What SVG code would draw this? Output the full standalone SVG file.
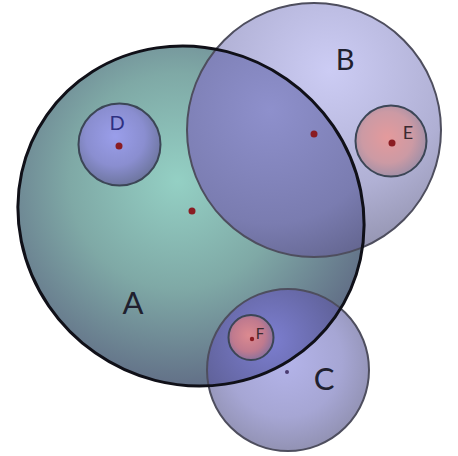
<svg xmlns="http://www.w3.org/2000/svg" width="458" height="456" viewBox="0 0 458 456">
<style>
.lbl{font-family:Lato,"DejaVu Sans",sans-serif;fill:#20202e;text-anchor:middle}
.dot{fill:#8a1c22}
.outer{fill:none;stroke:#4e4e5e;stroke-width:2}
.inner{stroke:#3c4656;stroke-width:2}
</style>
<defs>
<radialGradient id="gA" gradientUnits="userSpaceOnUse" cx="160" cy="195" r="215">
<stop offset="0" stop-color="#94d0c4"/><stop offset="0.5" stop-color="#7fa9a6"/><stop offset="1" stop-color="#5f6a84"/>
</radialGradient>
<radialGradient id="gB" gradientUnits="userSpaceOnUse" cx="330" cy="70" r="200">
<stop offset="0" stop-color="#ccccf4"/><stop offset="0.6" stop-color="#b0b0d4"/><stop offset="1" stop-color="#8e8ea8"/>
</radialGradient>
<radialGradient id="gAB" gradientUnits="userSpaceOnUse" cx="270" cy="110" r="190">
<stop offset="0" stop-color="#8e90cc"/><stop offset="0.6" stop-color="#7a7cb0"/><stop offset="1" stop-color="#5a5c82"/>
</radialGradient>
<radialGradient id="gC" gradientUnits="userSpaceOnUse" cx="285" cy="360" r="95">
<stop offset="0" stop-color="#b4b4ea"/><stop offset="0.6" stop-color="#a6a6d4"/><stop offset="1" stop-color="#9090b0"/>
</radialGradient>
<radialGradient id="gAC" gradientUnits="userSpaceOnUse" cx="270" cy="340" r="80">
<stop offset="0" stop-color="#7c7ed0"/><stop offset="1" stop-color="#5e6096"/>
</radialGradient>
<radialGradient id="gD" cx="0.45" cy="0.4" r="0.6">
<stop offset="0" stop-color="#9a9eea"/><stop offset="0.6" stop-color="#8a8ed0"/><stop offset="1" stop-color="#6e76a0"/>
</radialGradient>
<radialGradient id="gR" cx="0.45" cy="0.45" r="0.6">
<stop offset="0" stop-color="#e49a9c"/><stop offset="0.6" stop-color="#cc9aa4"/><stop offset="1" stop-color="#9a8ea8"/>
</radialGradient>
<radialGradient id="gF" cx="0.45" cy="0.45" r="0.6">
<stop offset="0" stop-color="#dc8a90"/><stop offset="0.6" stop-color="#c07a8e"/><stop offset="1" stop-color="#8070a0"/>
</radialGradient>
<clipPath id="clipA"><ellipse cx="191" cy="216" rx="176" ry="167" transform="rotate(35 191 216)"/></clipPath>
</defs>
<rect width="458" height="456" fill="#ffffff"/>
<g id="B-fill"><circle cx="314" cy="130" r="127" fill="url(#gB)"/></g>
<g id="C-fill"><circle cx="288" cy="370" r="81" fill="url(#gC)"/></g>
<g id="A">
<ellipse cx="191" cy="216" rx="176" ry="167" transform="rotate(35 191 216)" fill="url(#gA)"/>
<g clip-path="url(#clipA)">
<circle cx="314" cy="130" r="127" fill="url(#gAB)"/>
<circle cx="288" cy="370" r="81" fill="url(#gAC)"/>
</g>
<circle class="dot" cx="192" cy="211" r="3.5"/>
<text class="lbl" x="133" y="314" font-size="31">A</text>
</g>
<g id="B">
<circle class="outer" cx="314" cy="130" r="127"/>
<circle class="dot" cx="314" cy="134" r="3.5" fill="#6a2040"/>
<text class="lbl" x="345" y="70" font-size="29">B</text>
</g>
<g id="C">
<circle class="outer" cx="288" cy="370" r="81"/>
<circle cx="287" cy="372" r="2" fill="#4a3a70"/>
<text class="lbl" x="324" y="390" font-size="31">C</text>
</g>
<g id="A-outline">
<ellipse cx="191" cy="216" rx="176" ry="167" transform="rotate(35 191 216)" fill="none" stroke="#101018" stroke-width="3"/>
</g>
<g id="D">
<circle class="inner" cx="119.5" cy="144.5" r="41" fill="url(#gD)"/>
<circle class="dot" cx="119" cy="146" r="3.5"/>
<text class="lbl" x="117" y="130" font-size="20" style="fill:#2e3080">D</text>
</g>
<g id="E">
<circle class="inner" cx="391" cy="141" r="35.5" fill="url(#gR)"/>
<circle class="dot" cx="392" cy="143" r="3.5"/>
<text class="lbl" x="408" y="139" font-size="18" style="fill:#3a2a30">E</text>
</g>
<g id="F">
<circle class="inner" cx="251" cy="337.5" r="22.5" fill="url(#gF)"/>
<circle class="dot" cx="252" cy="339" r="2.2"/>
<text class="lbl" x="260" y="339" font-size="15" style="fill:#3a2a30">F</text>
</g>
</svg>
